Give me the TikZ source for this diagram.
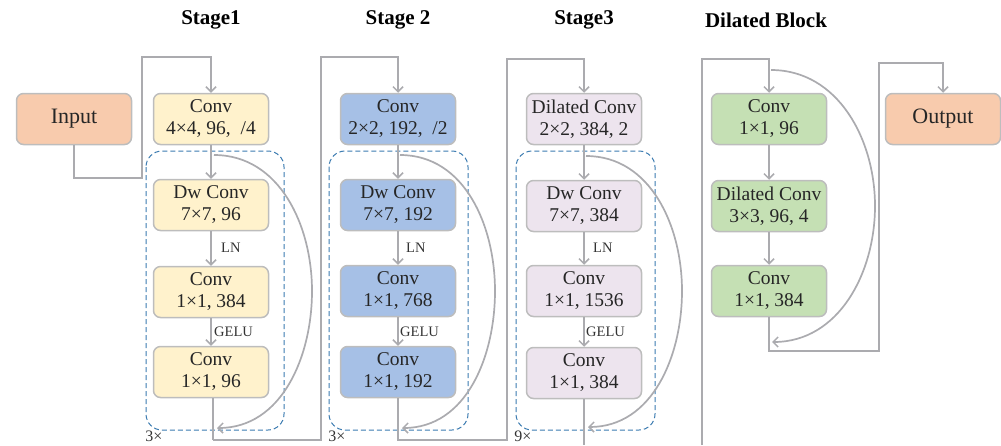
\documentclass[tikz,border=0pt]{standalone}
\usepackage{fontspec}
\setmainfont{Liberation Serif}
\usetikzlibrary{arrows.meta}
\definecolor{lgray}{HTML}{ABABAF}
\definecolor{bgray}{HTML}{BDBDBD}
\definecolor{dblue}{HTML}{3B7BB0}
\definecolor{cin}{HTML}{F8CBAD}
\definecolor{cyel}{HTML}{FFF2CC}
\definecolor{cblu}{HTML}{A6C0E6}
\definecolor{clav}{HTML}{EDE4EE}
\definecolor{cgrn}{HTML}{C5E0B4}
\tikzset{
  box/.style={draw=bgray, line width=1.5pt, rounded corners=7pt, minimum width=115pt, minimum height=51pt, align=center, inner sep=0pt, font=\fontsize{19.5}{22}\selectfont, text=black!85},
  bigbox/.style={box, font=\fontsize{22}{24}\selectfont},
  conn/.style={draw=lgray, line width=1.7pt},
  arr/.style={conn, -{Straight Barb[length=5pt,width=10pt,line width=1.5pt]}},
  dbox/.style={draw=dblue, line width=1pt, dashed, dash pattern=on 5pt off 3pt, rounded corners=16pt},
  ttl/.style={font=\fontsize{21}{23}\selectfont\bfseries},
  lab/.style={font=\fontsize{14.5}{16}\selectfont, text=black!80, anchor=west, inner sep=0pt},
  rep/.style={font=\fontsize{16}{18}\selectfont, text=black!80, inner sep=0pt}
}
\begin{document}
\begin{tikzpicture}[x=1pt,y=-1pt]
\useasboundingbox (0,0) rectangle (1001,445);
% titles
\node[ttl] (t1) at (211,20) {Stage1};
\node[ttl] (t2) at (398,20) {Stage 2};
\node[ttl] (t3) at (584,20) {Stage3};
\node[ttl] (t4) at (766,20) {Dilated Block};
% dashed boxes
\draw[dbox] (146,151) rectangle (284,430);
\draw[dbox] (329,151) rectangle (468,430);
\draw[dbox] (516,151) rectangle (655,430);
% nodes
\node[bigbox, fill=cin] (in) at (74,119) {Input};
\node[bigbox, fill=cin] (out) at (943,119) {Output};
% stage 1
\node[box, fill=cyel] (a0) at (211,119) {Conv\\4×4, 96, \ /4};
\node[box, fill=cyel] (a1) at (211,205) {Dw Conv\\7×7, 96};
\node[box, fill=cyel] (a2) at (211,292) {Conv\\1×1, 384};
\node[box, fill=cyel] (a3) at (211,372) {Conv\\1×1, 96};
% stage 2
\node[box, fill=cblu] (b0) at (398,119) {Conv\\2×2, 192, \ /2};
\node[box, fill=cblu] (b1) at (398,205) {Dw Conv\\7×7, 192};
\node[box, fill=cblu] (b2) at (398,291) {Conv\\1×1, 768};
\node[box, fill=cblu] (b3) at (398,372) {Conv\\1×1, 192};
% stage 3
\node[box, fill=clav] (c0) at (584,119) {Dilated Conv\\2×2, 384, 2};
\node[box, fill=clav] (c1) at (584,206) {Dw Conv\\7×7, 384};
\node[box, fill=clav] (c2) at (584,291) {Conv\\1×1, 1536};
\node[box, fill=clav] (c3) at (584,373) {Conv\\1×1, 384};
% dilated block
\node[box, fill=cgrn] (d0) at (769,119) {Conv\\1×1, 96};
\node[box, fill=cgrn] (d1) at (769,206) {Dilated Conv\\3×3, 96, 4};
\node[box, fill=cgrn] (d2) at (769,291) {Conv\\1×1, 384};
% labels
\node[lab] (l1) at (221,248) {LN};
\node[lab] (g1) at (214,332) {GELU};
\node[lab] (l2) at (406,248) {LN};
\node[lab] (g2) at (400,332) {GELU};
\node[lab] (l3) at (593,248) {LN};
\node[lab] (g3) at (586,332) {GELU};
\node[rep] (r1) at (154,436) {3×};
\node[rep] (r2) at (337,436) {3×};
\node[rep] (r3) at (523,436) {9×};
% input -> stage1
\draw[arr] (in.south) |- (142,178) |- (211,57) -- (a0.north);
\draw[arr] (a0) -- (a1);
\draw[arr] (a1) -- (a2);
\draw[arr] (a2) -- (a3);
\coordinate (a3e) at (213,440);
\draw[conn] (a3.south -| a3e) -- (a3e);
\draw[arr] (a3e) -| (321,57) -| (b0.north);
% stage 2
\draw[arr] (b0) -- (b1);
\draw[arr] (b1) -- (b2);
\draw[arr] (b2) -- (b3);
\coordinate (b3e) at (398,440);
\draw[arr] (b3.south) -- (b3e) -| (507,59) -| (c0.north);
% stage 3
\draw[arr] (c0) -- (c1);
\draw[arr] (c1) -- (c2);
\draw[arr] (c2) -- (c3);
\coordinate (c3e) at (584,445);
\draw[conn] (c3.south) -- (c3e);
% dilated block
\coordinate (d0s) at (702,445);
\draw[arr] (d0s) |- (769,59) -- (d0.north);
\draw[arr] (d0) -- (d1);
\draw[arr] (d1) -- (d2);
\draw[arr] (d2.south) |- (879,351) |- (943,63) -- (out.north);
% residual arcs
\draw[arr] (214,155) to[out=0,in=90] (312,291) to[out=-90,in=0] (217,428);
\draw[arr] (400,155) to[out=0,in=90] (495,291) to[out=-90,in=0] (402,428);
\draw[arr] (586,156) to[out=0,in=90] (682,291) to[out=-90,in=0] (588,427);
\draw[arr] (771,70) to[out=0,in=90] (875,206) to[out=-90,in=0] (772,342);
\end{tikzpicture}
\end{document}
